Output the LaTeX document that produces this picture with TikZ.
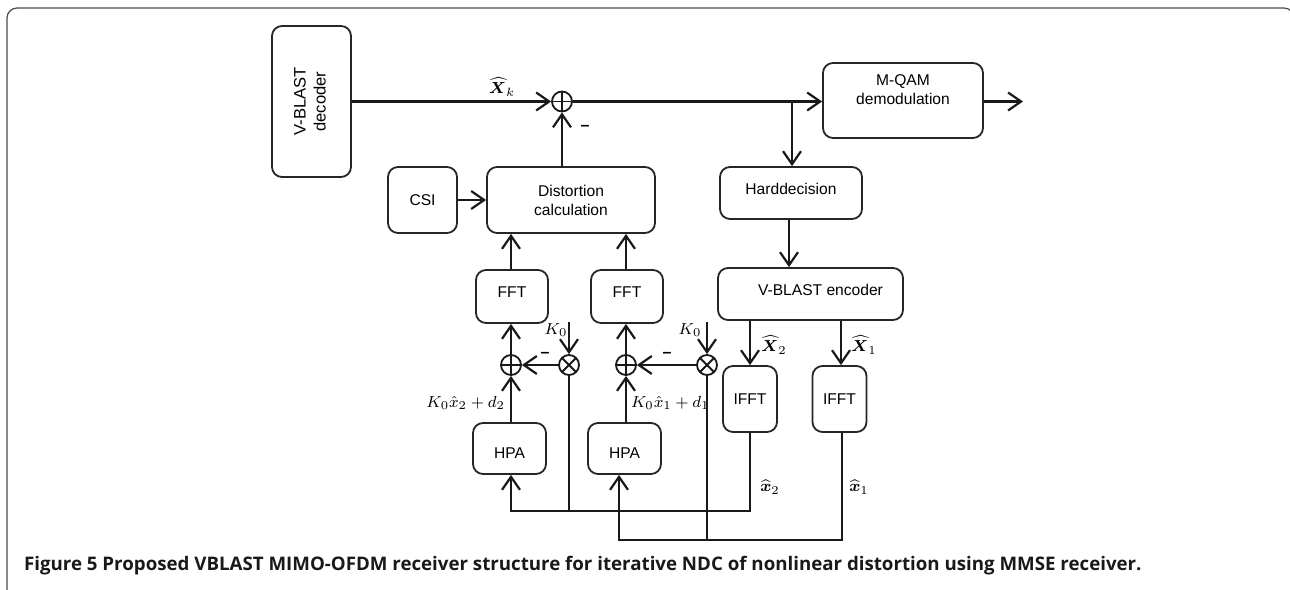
\documentclass[tikz,border=0pt]{standalone}
\usepackage{fontspec}
\usepackage{amsmath}
\usepackage{graphicx}
\setmainfont{Liberation Sans}
\newfontfamily\capfont{Open Sans}
\usetikzlibrary{arrows.meta}
\begin{document}
\begin{tikzpicture}[x=0.5pt,y=-0.5pt,
  line width=1.1pt, draw=black!90,
  >={Straight Barb[length=6.5pt,width=9pt]},
  box/.style={draw=black!85, line width=0.9pt, rounded corners=5pt, align=center, inner sep=0pt, font=\fontsize{7.8}{9.5}\selectfont},
  adder/.style={circle, draw, line width=0.9pt, minimum size=10pt, inner sep=0pt,
    path picture={\draw[line width=0.9pt] (path picture bounding box.north) -- (path picture bounding box.south) (path picture bounding box.west) -- (path picture bounding box.east);}},
  mixer/.style={circle, draw, line width=0.9pt, minimum size=10pt, inner sep=0pt,
    path picture={\draw[line width=0.9pt] ([shift={(45:5pt)}]path picture bounding box.center) -- ([shift={(225:5pt)}]path picture bounding box.center) ([shift={(135:5pt)}]path picture bounding box.center) -- ([shift={(-45:5pt)}]path picture bounding box.center);}},
  lbl/.style={inner sep=0pt, font=\fontsize{8}{9}\selectfont}]
  \clip (0,0) rectangle (1290,589);
  % frame
  \draw[black!70, line width=0.6pt, rounded corners=5pt] (7,620) -- (7,8) -- (1294,8) -- (1294,620);
  % boxes
  \node [box, minimum width=39.5pt, minimum height=75.5pt, font=\fontsize{8.3}{10}\selectfont] (dec) at (311.5,101.5) {\rotatebox{90}{\begin{tabular}{@{}c@{}}V-BLAST\\decoder\end{tabular}}};
  \node [box, minimum width=80pt, minimum height=37.5pt] (qam) at (903,100.5) {\raisebox{2.5pt}[0pt][0pt]{\begin{tabular}{@{}c@{}}M-QAM\\demodulation\end{tabular}}};
  \node [box, minimum width=34.5pt, minimum height=33pt] (csi) at (422.5,200) {CSI};
  \node [box, minimum width=84pt, minimum height=33pt] (dist) at (571,200) {Distortion\\calculation};
  \node [box, minimum width=71pt, minimum height=26pt, text depth=4pt] (hard) at (791,193) {Harddecision};
  \node [box, minimum width=92.5pt, minimum height=26pt, text depth=4pt] (enc) at (810.5,294) {\hspace*{10pt}V-BLAST encoder};
  \node [box, minimum width=36pt, minimum height=26.5pt, text depth=4pt] (fft2) at (512,296.5) {FFT};
  \node [box, minimum width=36pt, minimum height=26.5pt, text depth=4pt] (fft1) at (627,296.5) {FFT};
  \node [box, minimum width=27pt, minimum height=33pt] (ifft2) at (750,399) {IFFT};
  \node [box, minimum width=27pt, minimum height=33pt] (ifft1) at (839.5,399) {IFFT};
  \node [box, minimum width=36.5pt, minimum height=25.5pt] (hpa2) at (509.5,448.5) {\raisebox{-5pt}[0pt][0pt]{HPA}};
  \node [box, minimum width=36.5pt, minimum height=25.5pt] (hpa1) at (624.5,448.5) {\raisebox{-5pt}[0pt][0pt]{HPA}};
  % adders and multipliers
  \node [adder] (sum) at (562,101.5) {};
  \node [adder] (add2) at (511,365) {};
  \node [adder] (add1) at (626,365) {};
  \node [mixer] (mul2) at (569,365) {};
  \node [mixer] (mul1) at (707,365) {};
  % free ends
  \coordinate (split) at (792,101.5);
  \coordinate (out) at (1023,101.5);
  \coordinate (k2) at (569,322);
  \coordinate (k1) at (707,322);
  \coordinate (bus2) at (511,511);
  \coordinate (bus1) at (619,540);
  % top path
  \draw[->] (dec.east |- sum) -- (sum.west);
  \draw[->] (sum.east) -- (qam.west |- sum);
  \draw[->] (split) -- (split |- hard.north);
  \draw[->] (qam.east |- out) -- (out);
  \draw[->] (dist.north -| sum) -- (sum.south);
  \draw[->] (csi.east) -- (dist.west);
  \draw[->] (hard.south -| 789,0) -- (enc.north -| 789,0);
  % FFT branches
  \draw[->] (fft2.north -| add2) -- (dist.south -| add2);
  \draw[->] (fft1.north -| add1) -- (dist.south -| add1);
  \draw[->] (add2.north) -- (fft2.south -| add2);
  \draw[->] (add1.north) -- (fft1.south -| add1);
  \draw[->] (mul2.west) -- (add2.east);
  \draw[->] (mul1.west) -- (add1.east);
  \draw[->] (k2) -- (mul2.north);
  \draw[->] (k1) -- (mul1.north);
  \draw[->] (hpa2.north -| add2) -- (add2.south);
  \draw[->] (hpa1.north -| add1) -- (add1.south);
  % encoder outputs
  \draw[->] (enc.south -| ifft2) -- (ifft2.north);
  \draw[->] (enc.south -| 841,0) -- (ifft1.north -| 841,0);
  % feedback
  \draw[->] (ifft2.south) |- (bus2) -- (hpa2.south -| bus2);
  \draw[->] (ifft1.south -| 842,0) |- (bus1) -- (hpa1.south -| bus1);
  \draw (mul2.south) -- (mul2 |- bus2);
  \draw (mul1.south) -- (mul1 |- bus1);
  % labels
  \node [lbl] at (502,87) {$\boldsymbol{\widehat{X}}_k$};
  \node [lbl] at (585,128) {\textbf{–}};
  \node [lbl] at (545,355) {\textbf{–}};
  \node [lbl] at (667,355) {\textbf{–}};
  \node [lbl] at (556,330) {$K_0$};
  \node [lbl] at (690,330) {$K_0$};
  \node [lbl, anchor=east] at (506,403) {$K_0\hat{x}_2 + d_2$};
  \node [lbl, anchor=west] at (630,403) {$K_0\hat{x}_1 + d_1$};
  \node [lbl, anchor=west] at (760,345) {$\boldsymbol{\widehat{X}}_2$};
  \node [lbl, anchor=west] at (850,345) {$\boldsymbol{\widehat{X}}_1$};
  \node [lbl] at (770,487) {$\boldsymbol{\widehat{x}}_2$};
  \node [lbl] at (859,487) {$\boldsymbol{\widehat{x}}_1$};
  % caption
  \node [anchor=base west, inner sep=0pt, text=black!90, font=\capfont\fontsize{9.35}{11}\selectfont\bfseries] (cap) at (23,570) {Figure 5 Proposed VBLAST MIMO-OFDM receiver structure for iterative NDC of nonlinear distortion using MMSE receiver.};
\end{tikzpicture}
\end{document}
